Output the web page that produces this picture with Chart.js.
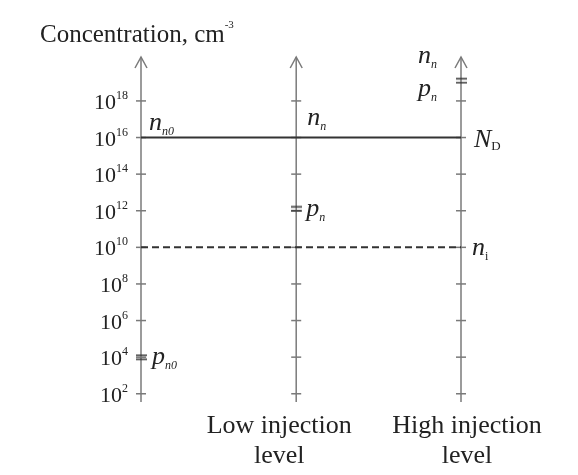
<!DOCTYPE html>
<html>
<head>
<meta charset="utf-8">
<script src="https://cdn.jsdelivr.net/npm/chart.js@4/dist/chart.umd.min.js"></script>
<style>
  html, body { margin: 0; padding: 0; background: #fff; }
</style>
</head>
<body>
<canvas id="chart" width="578" height="475"></canvas>
<script>
// ── Data ────────────────────────────────────────────────────────
const levelNames   = ['Low injection', 'High injection'];   // 2nd / 3rd axis
const tickExps     = [2, 4, 6, 8, 10, 12, 14, 16, 18];      // log10 of cm^-3
const axisExps     = [1.55, 20.4];                          // bottom / top of drawn axes
const donorExp     = 16;                                    // N_D = n_n0
const intrinsicExp = 10;                                    // n_i
const holeExps     = [4, 12.1, 19.1];                       // p_n0, p_n (low), p_n ≈ n_n (high)

// ── Layout ──────────────────────────────────────────────────────
const levelPos = [0, 0.97, 2];
const FONT  = '"Liberation Serif", "Times New Roman", serif';
const INK   = '#222';
const AXIS  = '#7a7a7a';
const LINE  = '#333';

const pow = e => Math.pow(10, e);

// "=" marker used for hole concentrations
const doubleTick = (() => {
    const c = document.createElement('canvas');
    c.width = 11; c.height = 7;
    const g = c.getContext('2d');
    g.strokeStyle = LINE; g.lineWidth = 1.6;
    g.beginPath();
    g.moveTo(0, 1.5); g.lineTo(11, 1.5);
    g.moveTo(0, 5.5); g.lineTo(11, 5.5);
    g.stroke();
    return c;
})();

// ── Datasets ────────────────────────────────────────────────────
const datasets = [];

levelPos.forEach(p => {
    datasets.push({
        type: 'line',
        data: [{ x: p, y: pow(axisExps[0]) }, { x: p, y: pow(axisExps[1]) }],
        borderColor: AXIS, borderWidth: 1.5, pointRadius: 0, clip: false, order: 5
    });
    datasets.push({
        type: 'scatter',
        data: tickExps.map(e => ({ x: p, y: pow(e) })),
        pointStyle: 'line', pointRadius: 5, borderColor: AXIS, borderWidth: 1.5, clip: false, order: 4
    });
});

datasets.push({
    type: 'line',
    data: [{ x: 0, y: pow(donorExp) }, { x: 2, y: pow(donorExp) }],
    borderColor: LINE, borderWidth: 2, pointRadius: 0, clip: false, order: 2
});
datasets.push({
    type: 'line',
    data: [{ x: 0, y: pow(intrinsicExp) }, { x: 2, y: pow(intrinsicExp) }],
    borderColor: LINE, borderWidth: 2, borderDash: [7, 4], pointRadius: 0, clip: false, order: 2
});
datasets.push({
    type: 'scatter',
    data: holeExps.map((e, i) => ({ x: levelPos[i], y: pow(e) })),
    pointStyle: doubleTick, pointRadius: 5, clip: false, order: 1
});

// ── Text helpers ────────────────────────────────────────────────
// parts: [{ t, size, italic, dy }]; draws a run of text with sub/superscripts
function rich(ctx, x, y, parts, align) {
    const fontOf = p => `${p.italic ? 'italic ' : ''}${p.size}px ${FONT}`;
    let w = 0;
    parts.forEach(p => { ctx.font = fontOf(p); w += ctx.measureText(p.t).width; });
    let cx = align === 'right' ? x - w : align === 'center' ? x - w / 2 : x;
    ctx.textAlign = 'left';
    ctx.textBaseline = 'alphabetic';
    parts.forEach(p => {
        ctx.font = fontOf(p);
        ctx.fillText(p.t, cx, y + (p.dy || 0));
        cx += ctx.measureText(p.t).width;
    });
}

const varLabel = (main, sub, subItalic = true) => [
    { t: main, size: 26, italic: true },
    { t: sub, size: 12, italic: subItalic, dy: 5 }
];

// labels anchored to (level index, exponent) with pixel offsets
const labels = [
    { at: [0, donorExp],     dx: 8,   dy: -8,  parts: varLabel('n', 'n0') },
    { at: [1, donorExp],     dx: 11,  dy: -13, parts: varLabel('n', 'n') },
    { at: [2, donorExp],     dx: 13,  dy: 9,   parts: [{ t: 'N', size: 26, italic: true }, { t: 'D', size: 13, dy: 3 }] },
    { at: [2, intrinsicExp], dx: 11,  dy: 8,   parts: varLabel('n', 'i', false) },
    { at: [1, holeExps[1]],  dx: 10,  dy: 7,   parts: varLabel('p', 'n') },
    { at: [0, holeExps[0]],  dx: 11,  dy: 7,   parts: varLabel('p', 'n0') },
    { at: [2, holeExps[2]],  dx: -24, dy: -18, parts: varLabel('n', 'n'), align: 'right' },
    { at: [2, holeExps[2]],  dx: -24, dy: 15,  parts: varLabel('p', 'n'), align: 'right' }
];

const annotate = {
    id: 'annotate',
    afterDraw(chart) {
        const { ctx, scales: { x, y } } = chart;
        ctx.save();

        // arrowheads on top of each axis
        ctx.strokeStyle = AXIS; ctx.lineWidth = 1.5;
        levelPos.forEach(p => {
            const px = x.getPixelForValue(p), py = y.getPixelForValue(pow(axisExps[1]));
            ctx.beginPath();
            ctx.moveTo(px - 6, py + 11);
            ctx.lineTo(px, py);
            ctx.lineTo(px + 6, py + 11);
            ctx.stroke();
        });

        ctx.fillStyle = INK;

        // title
        rich(ctx, 40, 42, [
            { t: 'Concentration, cm', size: 25 },
            { t: '-3', size: 11, dy: -14 }
        ]);

        // tick labels 10^e
        const right = x.getPixelForValue(0) - 13;
        tickExps.forEach(e => {
            const py = y.getPixelForValue(pow(e));
            rich(ctx, right, py + 8, [
                { t: '10', size: 22 },
                { t: String(e), size: 12, dy: -10 }
            ], 'right');
        });

        // level captions
        const captions = [[levelNames[0], levelPos[1], -17], [levelNames[1], levelPos[2], 6]];
        captions.forEach(([name, p, off]) => {
            const cx = x.getPixelForValue(p) + off;
            rich(ctx, cx, 433, [{ t: name, size: 26 }], 'center');
            rich(ctx, cx, 463, [{ t: 'level', size: 26 }], 'center');
        });

        // variable labels
        labels.forEach(l => {
            const px = x.getPixelForValue(levelPos[l.at[0]]) + l.dx;
            const py = y.getPixelForValue(pow(l.at[1])) + l.dy;
            rich(ctx, px, py, l.parts, l.align);
        });

        ctx.restore();
    }
};

new Chart(document.getElementById('chart'), {
    type: 'scatter',
    data: { datasets },
    options: {
        responsive: false,
        animation: false,
        devicePixelRatio: 1,
        layout: { padding: { left: 141, right: 117, top: 57, bottom: 73 } },
        plugins: { legend: { display: false }, tooltip: { enabled: false } },
        scales: {
            x: { type: 'linear', min: 0, max: 2, display: false },
            y: { type: 'logarithmic', min: pow(axisExps[0]), max: pow(axisExps[1]), display: false }
        },
        elements: { line: { tension: 0 } }
    },
    plugins: [annotate]
});
</script>
</body>
</html>
